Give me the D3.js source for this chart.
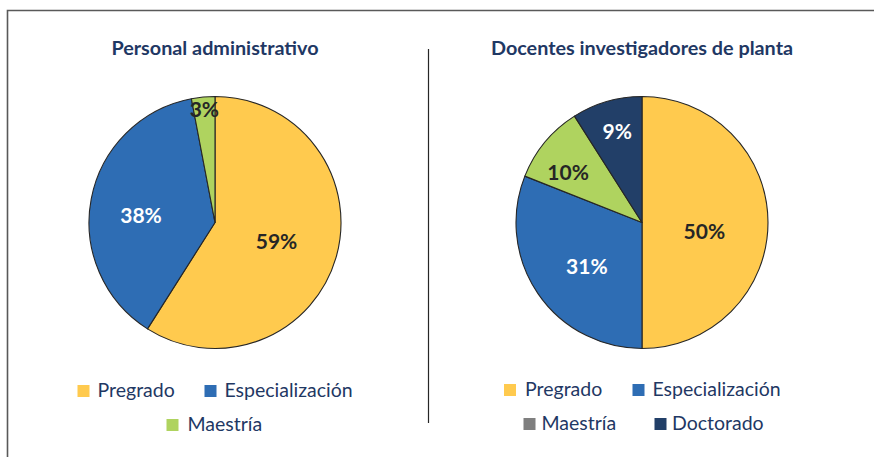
<!DOCTYPE html>
<html>
<head>
<meta charset="utf-8">
<script src="https://cdn.jsdelivr.net/npm/d3@7"></script>
<style>
    body { margin: 0; background: #fff; }
    svg { display: block; font-family: Lato, "Open Sans", sans-serif; }
</style>
</head>
<body>
<svg id="chart" width="874" height="457"></svg>
<script>
(function()
{
    "use strict";

    // data
    var leftTitle      = "Personal administrativo";
    var leftCategories = ["Pregrado", "Especialización", "Maestría"];
    var leftValues     = [59, 38, 3];

    var rightTitle      = "Docentes investigadores de planta";
    var rightCategories = ["Pregrado", "Especialización", "Maestría", "Doctorado"];
    var rightValues     = [50, 31, 10, 9];

    // #########################################################################
    var sliceColor = {
        "Pregrado":        "#FFCA4E",
        "Especialización": "#2E6DB4",
        "Maestría":        "#AFD35F",
        "Doctorado":       "#223F68"
    };
    var labelColor = {
        "Pregrado":        "#262626",
        "Especialización": "#ffffff",
        "Maestría":        "#262626",
        "Doctorado":       "#ffffff"
    };
    var navy = "#1F3864";
    var radius = 126;

    var svg = d3.select("#chart");

    // frame
    svg.append("path")
       .attr("d", "M7.5,457 V10.5 H874")
       .attr("fill", "none")
       .attr("stroke", "#595959")
       .attr("stroke-width", 1.6);

    // divider
    svg.append("line")
       .attr("x1", 428.5).attr("x2", 428.5)
       .attr("y1", 49).attr("y2", 423)
       .attr("stroke", "#262626")
       .attr("stroke-width", 1.2);

    // #########################################################################
    function drawPie(opt)
    {
        var g = svg.append("g");

        g.append("text")
         .attr("x", opt.cx)
         .attr("y", 55)
         .attr("text-anchor", "middle")
         .attr("font-size", 19.8)
         .attr("font-weight", "bold")
         .attr("fill", navy)
         .text(opt.title);

        var data = opt.categories.map((c, i) => ({cat: c, value: opt.values[i], idx: i}));

        var pie = d3.pie()
                    .sort(null)
                    .value((d) => d.value);

        var arc = d3.arc()
                    .innerRadius(0)
                    .outerRadius(radius);

        var arcs = pie(data);
        var pg = g.append("g")
                  .attr("transform", `translate(${opt.cx},${opt.cy})`);

        pg.selectAll("path")
          .data(arcs)
          .enter()
          .append("path")
          .attr("d", arc)
          .attr("fill", (d) => sliceColor[d.data.cat])
          .attr("stroke", "#262626")
          .attr("stroke-width", 1.1)
          .attr("stroke-linejoin", "round");

        // labels sit on the slice's mid angle, nudged like the original
        pg.selectAll("text")
          .data(arcs)
          .enter()
          .append("text")
          .attr("transform", function(d) {
              var r = radius * opt.labelRadius[d.data.idx];
              var a = (d.startAngle + d.endAngle) / 2 + opt.labelShift[d.data.idx];
              return `translate(${r * Math.sin(a)},${-r * Math.cos(a)})`;
          })
          .attr("text-anchor", "middle")
          .attr("dy", "0.36em")
          .attr("font-size", 21)
          .attr("font-weight", "bold")
          .attr("fill", (d) => labelColor[d.data.cat])
          .text((d) => d.data.value + "%");

        // legend
        var lg = g.selectAll("g.legend")
                  .data(opt.categories)
                  .enter()
                  .append("g")
                  .attr("class", "legend")
                  .attr("transform", (d, i) => `translate(${opt.legendPos[i][0]},${opt.legendPos[i][1]})`);

        lg.append("rect")
          .attr("x", 0).attr("y", -12)
          .attr("width", 12).attr("height", 12)
          .attr("fill", (d, i) => opt.legendColors ? opt.legendColors[i] : sliceColor[d]);

        lg.append("text")
          .attr("x", (d, i) => opt.legendGap[i])
          .attr("y", 0)
          .attr("font-size", 19.5)
          .attr("fill", navy)
          .text((d) => d);
    }

    drawPie({
        title: leftTitle,
        categories: leftCategories,
        values: leftValues,
        cx: 215, cy: 222.5,
        labelRadius: [0.51, 0.59, 0.9],
        labelShift: [0.012, -0.087, 0],
        legendPos: [[77.5, 397], [204.5, 397], [166.5, 431]],
        legendGap: [20, 20, 21]
    });

    drawPie({
        title: rightTitle,
        categories: rightCategories,
        values: rightValues,
        cx: 642, cy: 222.5,
        labelRadius: [0.5, 0.56, 0.71, 0.75],
        labelShift: [0.14, -0.077, -0.092, 0.017],
        legendPos: [[504, 396], [632.5, 396], [523.5, 430], [654.5, 430]],
        legendColors: ["#FFCA4E", "#2E6DB4", "#7F7F7F", "#223F68"],
        legendGap: [21, 20, 18, 17.5]
    });
}
)();
</script>
</body>
</html>
